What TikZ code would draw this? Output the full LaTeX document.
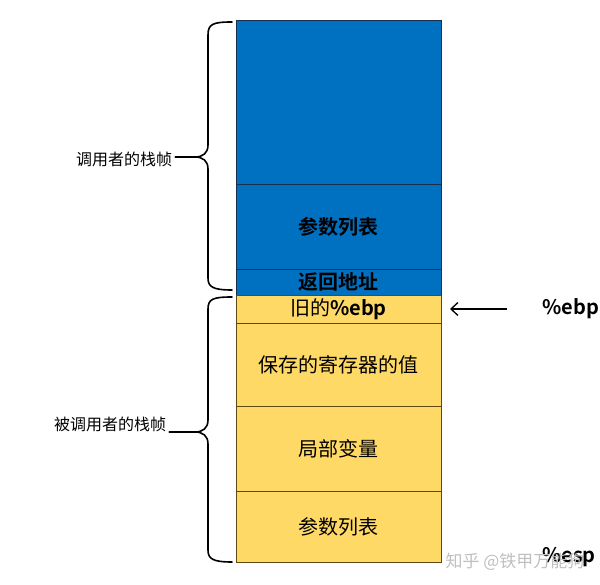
\documentclass[tikz,border=0pt]{standalone}
\usepackage{fontspec}
\setmainfont{Noto Sans CJK SC}[BoldFont={Noto Sans CJK SC Bold}]
\usetikzlibrary{arrows.meta, positioning}
\definecolor{frameblue}{HTML}{0070C0}
\definecolor{frameyellow}{HTML}{FFD966}
\definecolor{blueedge}{HTML}{1A2E4A}
\definecolor{yellowedge}{HTML}{5C4A14}

\begin{document}
\begin{tikzpicture}[x=1pt, y=1pt,
	bluecell/.style={rectangle, draw=blueedge, line width=.9pt, fill=frameblue, minimum width=205pt, inner sep=0pt, outer sep=0pt, font=\fontsize{20}{22}\selectfont\bfseries},
	yellowcell/.style={rectangle, draw=yellowedge, line width=.9pt, fill=frameyellow, minimum width=205pt, inner sep=0pt, outer sep=0pt, font=\fontsize{20}{22}\selectfont},
	bracket/.style={line width=1.6pt, line cap=round},
	arrow/.style={-{Straight Barb[length=7pt, width=13pt]}, line width=1.3pt},
	sidelabel/.style={font=\fontsize{16}{18}\selectfont, inner sep=3pt},
	reglabel/.style={font=\fontsize{20}{22}\selectfont\bfseries, inner sep=2pt}
	]
	\useasboundingbox (0,0) rectangle (600,585);
	\node[bluecell, minimum height=164pt, anchor=north] (callertop) at (338.5,565) {};
	\node[bluecell, minimum height=85pt, below=0pt of callertop] (callerargs) {参数列表};
	\node[bluecell, minimum height=26pt, below=0pt of callerargs] (retaddr) {返回地址};
	\node[yellowcell, minimum height=28pt, below=0pt of retaddr] (oldebp) {旧的\textbf{\%ebp}};
	\node[yellowcell, minimum height=83pt, below=0pt of oldebp] (saved) {保存的寄存器的值};
	\node[yellowcell, minimum height=85pt, below=0pt of saved] (locals) {局部变量};
	\node[yellowcell, minimum height=71pt, below=0pt of locals] (calleeargs) {参数列表};
	\coordinate (tipone) at (195,428);
	\coordinate (tiptwo) at (195,153);
	\draw[bracket] (232,563) .. controls (213,563) and (208,561) .. (208,550) -- (208,440) .. controls (208,432) and (203,428) .. (tipone) .. controls (203,428) and (208,424) .. (208,416) -- (208,307) .. controls (208,298) and (213,295) .. (232,295);
	\draw[bracket] (232,288) .. controls (213,288) and (208,286) .. (208,276) -- (208,165) .. controls (208,157) and (203,153) .. (tiptwo) .. controls (203,153) and (208,149) .. (208,141) -- (208,35) .. controls (208,26) and (213,23) .. (232,23);
	\node[sidelabel] (callerlabel) at (124,426) {调用者的栈帧};
	\node[sidelabel] (calleelabel) at (110,161) {被调用者的栈帧};
	\draw[bracket] (callerlabel.east |- tipone) -- (tipone);
	\draw[bracket] (calleelabel.east |- tiptwo) -- (tiptwo);
	\node[reglabel] (ebplabel) at (571,276) {\%ebp};
	\draw[arrow, shorten <=33pt, shorten >=9pt] (ebplabel.west) -- (oldebp.east);
	\node[reglabel] (esplabel) at (569,28) {\%esp};
	\node[font=\fontsize{17}{19}\selectfont, text=black!25] (watermark) at (515,23) {知乎 @铁甲万能狗};
\end{tikzpicture}
\end{document}
